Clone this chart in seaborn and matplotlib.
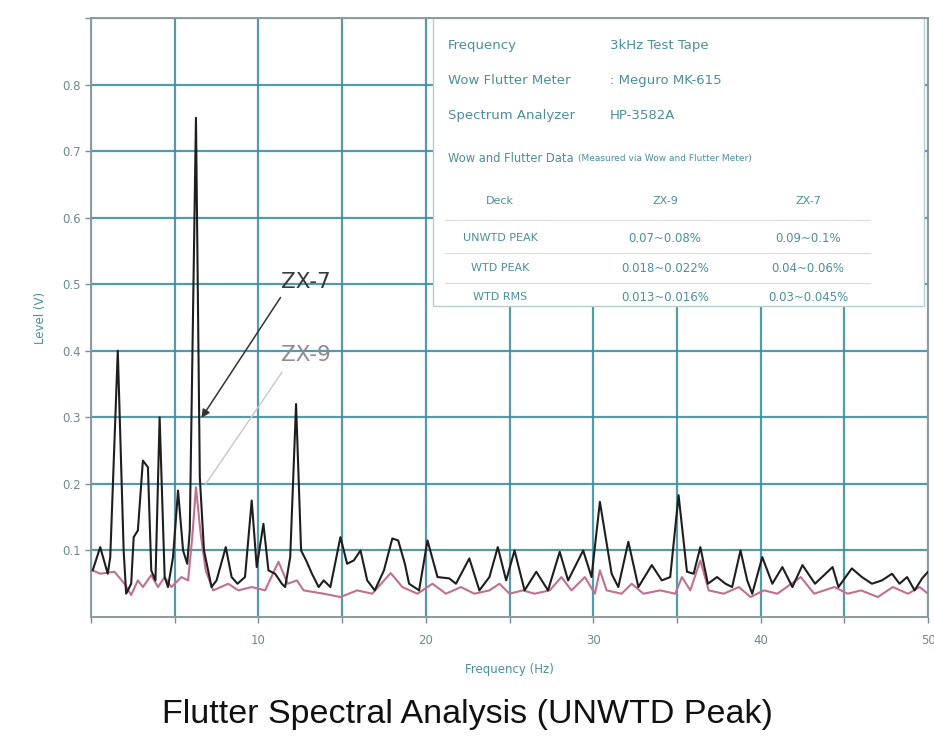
import numpy as np
import pandas as pd
import matplotlib
matplotlib.use("Agg")
import matplotlib.pyplot as plt
from matplotlib.patches import Rectangle
import seaborn as sns

# ---- data ----
zx7_freq = [0.1, 0.55, 1.0, 1.15, 1.6, 1.95, 2.1, 2.4, 2.55, 2.8, 3.1, 3.4, 3.6, 3.85, 4.1, 4.4, 4.6, 4.9,
            5.2, 5.5, 5.75, 5.9, 6.27, 6.5, 6.75, 7.2, 7.5, 8.05, 8.4, 8.75, 9.2, 9.6, 9.9, 10.3, 10.6,
            11.0, 11.4, 11.6, 11.9, 12.25, 12.55, 12.85, 13.2, 13.6, 13.9, 14.3, 14.9, 15.3, 15.7, 16.1,
            16.5, 16.95, 17.5, 18.0, 18.35, 18.75, 19.0, 19.6, 20.1, 20.7, 21.4, 21.8, 22.6, 23.2, 23.8,
            24.3, 24.8, 25.3, 25.9, 26.6, 27.3, 28.0, 28.5, 29.4, 29.9, 30.4, 31.1, 31.5, 32.1, 32.7,
            33.5, 34.1, 34.6, 35.1, 35.6, 36.0, 36.4, 36.85, 37.4, 37.9, 38.3, 38.8, 39.2, 39.5, 40.1,
            40.7, 41.3, 41.9, 42.5, 43.25, 44.3, 44.65, 45.45, 46.05, 46.65, 47.25, 47.85, 48.3, 48.75,
            49.2, 49.65, 50.0]
zx7_level = [0.07, 0.105, 0.065, 0.09, 0.40, 0.10, 0.035, 0.05, 0.12, 0.13, 0.235, 0.225, 0.07, 0.055, 0.30,
             0.06, 0.045, 0.09, 0.19, 0.10, 0.08, 0.13, 0.75, 0.21, 0.10, 0.045, 0.055, 0.105, 0.06, 0.05,
             0.06, 0.175, 0.075, 0.14, 0.07, 0.065, 0.05, 0.045, 0.09, 0.32, 0.10, 0.085, 0.065, 0.045,
             0.055, 0.045, 0.12, 0.08, 0.085, 0.10, 0.055, 0.04, 0.07, 0.118, 0.115, 0.08, 0.05, 0.04,
             0.115, 0.06, 0.058, 0.05, 0.088, 0.04, 0.06, 0.105, 0.055, 0.10, 0.04, 0.068, 0.04, 0.098,
             0.055, 0.10, 0.06, 0.173, 0.065, 0.045, 0.113, 0.045, 0.078, 0.055, 0.06, 0.183, 0.068,
             0.065, 0.105, 0.05, 0.06, 0.05, 0.045, 0.10, 0.055, 0.035, 0.09, 0.05, 0.075, 0.045, 0.078,
             0.05, 0.075, 0.045, 0.073, 0.06, 0.05, 0.055, 0.065, 0.05, 0.06, 0.04, 0.058, 0.068]

zx9_freq = [0.1, 0.55, 1.4, 2.0, 2.4, 2.8, 3.1, 3.6, 4.0, 4.4, 4.8, 5.4, 5.8, 6.05, 6.27, 6.55, 6.85, 7.3,
            8.2, 8.8, 9.6, 10.4, 11.2, 11.75, 12.3, 12.7, 13.9, 14.9, 15.9, 16.8, 17.9, 18.6, 19.5, 20.4,
            21.2, 22.1, 22.9, 23.8, 24.4, 25.0, 25.8, 26.5, 27.4, 28.1, 28.7, 29.5, 30.1, 30.4, 30.8,
            31.7, 32.3, 33.0, 34.0, 34.9, 35.3, 35.8, 36.4, 36.9, 37.8, 38.7, 39.4, 40.2, 41.0, 42.4,
            43.2, 44.4, 45.2, 46.0, 47.0, 47.9, 48.8, 49.5, 50.0]
zx9_level = [0.07, 0.065, 0.068, 0.05, 0.033, 0.055, 0.045, 0.063, 0.045, 0.06, 0.045, 0.06, 0.055, 0.12,
             0.195, 0.125, 0.07, 0.04, 0.05, 0.04, 0.045, 0.04, 0.083, 0.05, 0.055, 0.04, 0.035, 0.03,
             0.04, 0.035, 0.066, 0.045, 0.035, 0.05, 0.035, 0.045, 0.035, 0.04, 0.05, 0.035, 0.04, 0.035,
             0.04, 0.06, 0.04, 0.06, 0.035, 0.07, 0.04, 0.035, 0.05, 0.035, 0.04, 0.035, 0.06, 0.04,
             0.085, 0.04, 0.035, 0.045, 0.03, 0.04, 0.035, 0.06, 0.035, 0.045, 0.035, 0.04, 0.03, 0.045,
             0.035, 0.045, 0.035]

info_labels = ["Frequency", "Wow Flutter Meter", "Spectrum Analyzer"]
info_values = ["3kHz Test Tape", ": Meguro MK-615", "HP-3582A"]
table_header = ["Deck", "ZX-9", "ZX-7"]
table_rows = [["UNWTD PEAK", "0.07~0.08%", "0.09~0.1%"],
              ["WTD PEAK", "0.018~0.022%", "0.04~0.06%"],
              ["WTD RMS", "0.013~0.016%", "0.03~0.045%"]]
x_ticks = [0, 5, 10, 15, 20, 25, 30, 35, 40, 45, 50]
x_labels = ["", "", "10", "", "20", "", "30", "", "40", "", "50"]
y_ticks = [0.1, 0.2, 0.3, 0.4, 0.5, 0.6, 0.7, 0.8, 0.9]
y_labels = ["0.1", "0.2", "0.3", "0.4", "0.5", "0.6", "0.7", "0.8", ""]

df = pd.concat([
    pd.DataFrame({"freq": zx7_freq, "level": zx7_level, "deck": "ZX-7"}),
    pd.DataFrame({"freq": zx9_freq, "level": zx9_level, "deck": "ZX-9"}),
])

sns.set_theme(style="white")
plt.rcParams["font.family"] = ["DejaVu Sans"]

W, H = 934, 746
fig = plt.figure(figsize=(W / 100, H / 100), dpi=100)
ax = fig.add_axes([91 / W, 1 - 617 / H, (928 - 91) / W, (617 - 18) / H])

teal = "#3f909f"
txt = "#4a8f9c"

sns.lineplot(data=df, x="freq", y="level", hue="deck", hue_order=["ZX-9", "ZX-7"],
             palette={"ZX-7": "#1e1e1e", "ZX-9": "#c07090"}, linewidth=1.5, legend=False,
             estimator=None, sort=False, ax=ax, zorder=3)

ax.set_xlim(0, 50)
ax.set_ylim(0, 0.9)
ax.set_xticks(x_ticks)
ax.set_xticklabels(x_labels)
ax.set_yticks(y_ticks)
ax.set_yticklabels(y_labels)
ax.set_axisbelow(True)
ax.grid(True, color=teal, linewidth=1.6, alpha=0.9)
ax.tick_params(axis="both", colors="#7c8c90", labelcolor="#6b8990", labelsize=8.5,
               length=4, width=1, direction="out", bottom=True, left=True)
ax.tick_params(axis="x", pad=8)
for s in ax.spines.values():
    s.set_color("#8a9a9e")
    s.set_linewidth(1.4)

ax.set_xlabel("Frequency (Hz)", color=txt, fontsize=8.5, labelpad=12)
ax.set_ylabel("Level (V)", color=txt, fontsize=8.5, labelpad=11)

# info box
box = Rectangle((20.45, 0.468), 49.75 - 20.45, 0.9 - 0.468, transform=ax.transData,
                facecolor="white", edgecolor="#b8cdd2", linewidth=1.0, zorder=1.5)
ax.add_patch(box)

def px2data(px, py):
    return (px - 91) / 16.74, (617 - py) / 666.0

for i, (lab, val) in enumerate(zip(info_labels, info_values)):
    py = 45 + 35 * i
    x1, y1 = px2data(448, py)
    x2, _ = px2data(610, py)
    ax.text(x1, y1, lab, color=txt, fontsize=9.5, va="center", ha="left", zorder=4)
    ax.text(x2, y1, val, color=txt, fontsize=9.5, va="center", ha="left", zorder=4)

x1, y1 = px2data(448, 158)
ax.text(x1, y1, "Wow and Flutter Data", color=txt, fontsize=8.3, va="center", ha="left", zorder=4)
x2, _ = px2data(578, 158)
ax.text(x2, y1, "(Measured via Wow and Flutter Meter)", color=txt, fontsize=6.5,
        va="center", ha="left", zorder=4)

col_px = [500, 665, 808]
row_py = [201, 238, 268, 297]
for j, h in enumerate(table_header):
    xx, yy = px2data(col_px[j], row_py[0])
    ax.text(xx, yy, h, color=txt, fontsize=8, va="center", ha="center", zorder=4)
for i, row in enumerate(table_rows):
    for j, cell in enumerate(row):
        xx, yy = px2data(col_px[j], row_py[i + 1])
        ax.text(xx, yy, cell, color=txt, fontsize=8.5 if j else 8, va="center", ha="center", zorder=4)
for py in [220, 253, 283]:
    xa, yy = px2data(445, py)
    xb, _ = px2data(870, py)
    ax.plot([xa, xb], [yy, yy], color="#e6d8dc", linewidth=0.8, zorder=2)

# annotations
tx, ty = px2data(281, 282)
ex, ey = px2data(200, 420)
sx, sy = px2data(282, 295)
ax.annotate("", xy=(ex, ey), xytext=(sx, sy),
            arrowprops=dict(arrowstyle="-|>", color="#333333", lw=1.1, mutation_scale=12), zorder=5)
ax.text(tx, ty, "ZX-7", color="#3a3a3a", fontsize=15.5, va="center", ha="left", zorder=5)

tx, ty = px2data(281, 355)
ex, ey = px2data(205, 485)
sx, sy = px2data(282, 372)
ax.plot([sx, ex], [sy, ey], color="#c8c8c8", lw=1.0, zorder=5)
ax.text(tx, ty, "ZX-9", color="#8f8a95", fontsize=15.5, va="center", ha="left", zorder=5)

fig.text(467 / W, 1 - 715 / H, "Flutter Spectral Analysis (UNWTD Peak)", ha="center", va="center",
         fontsize=24.5, color="#111111", family=["Liberation Sans", "DejaVu Sans"])

fig.savefig("out.png", dpi=100)
